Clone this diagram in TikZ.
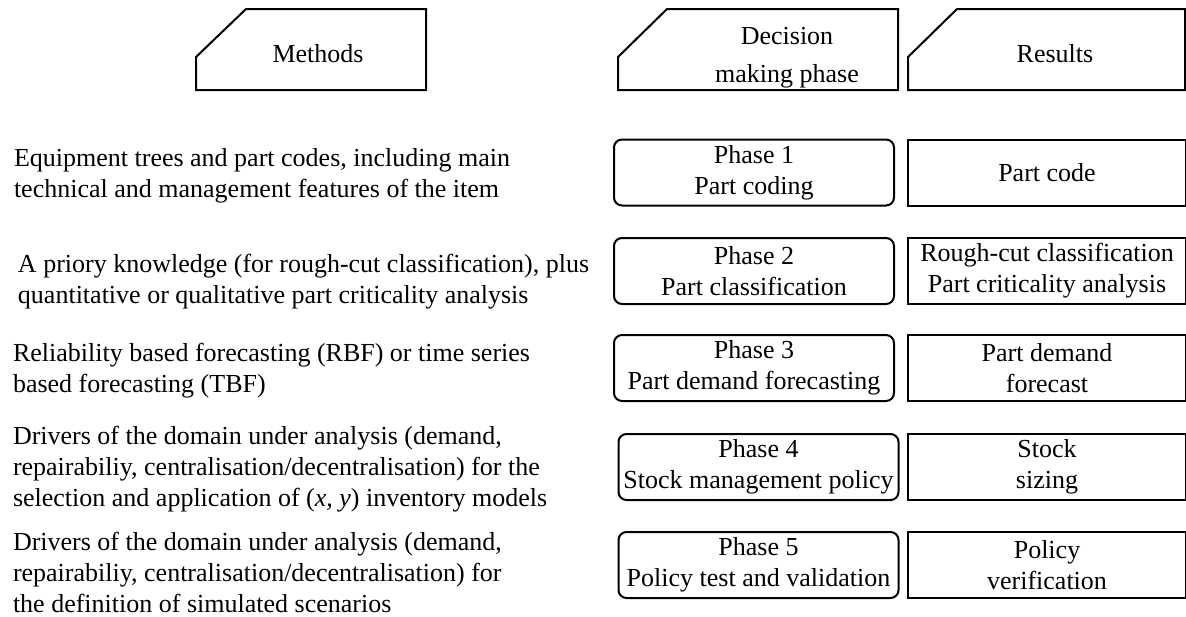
\documentclass[tikz,border=0pt]{standalone}
\usepackage{fontspec}
\setmainfont{LiberationSerif}[Extension=.ttf,UprightFont=*-Regular,ItalicFont=*-Italic,BoldFont=*-Bold]
\usetikzlibrary{positioning}

\begin{document}
\begin{tikzpicture}[x=0.5pt,y=-0.5pt,line width=1pt,
  every node/.style={font=\fontsize{13}{15.5}\selectfont},
  method/.style={anchor=west,align=left,inner sep=0pt},
  phase/.style={draw,rounded corners=4pt,minimum width=140pt,minimum height=33pt,align=center,inner sep=1pt},
  result/.style={draw,minimum width=139pt,minimum height=33pt,align=center,inner sep=1pt},
  head/.style={align=center,inner sep=0pt}]
\useasboundingbox (0,0) rectangle (1186,616);

% header boxes with the cut corner
\draw (196,57) -- (246,9) -- (426,9) -- (426,90) -- (196,90) -- cycle;
\draw (618,57) -- (667,9) -- (898,9) -- (898,90) -- (618,90) -- cycle;
\draw (908,57) -- (957,9) -- (1185,9) -- (1185,90) -- (908,90) -- cycle;

\node[head](hm) at (318,54) {Methods};
\node[head](hd) at (787,58) {Decision\\[3.5pt]making phase};
\node[head](hr) at (1055,54) {Results};

% methods
\node[method](m1) at (13,176) {Equipment trees and part codes, including main\\technical and management features of the item};
\node[method](m2) at (17,282) {A priory knowledge (for rough-cut classification), plus\\quantitative or qualitative part criticality analysis};
\node[method](m3) at (12,371) {Reliability based forecasting (RBF) or time series\\based forecasting (TBF)};
\node[method](m4) at (12,469) {Drivers of the domain under analysis (demand,\\repairabiliy, centralisation/decentralisation) for the\\selection and application of (\textit{x, y}) inventory models};
\node[method](m5) at (12,572) {Drivers of the domain under analysis (demand,\\repairabiliy, centralisation/decentralisation) for\\the definition of simulated scenarios};

% phases
\node[phase](p1) at (754,172.5) {Phase 1\\Part coding};
\node[phase](p2) at (754,271) {Phase 2\\Part classification};
\node[phase](p3) at (754,368) {Phase 3\\Part demand forecasting};
\node[phase](p4) at (758.5,467) {Phase 4\\Stock management policy};
\node[phase](p5) at (758.5,565) {Phase 5\\Policy test and validation};

% results
\node[result](r1) at (1047,172.5) {Part code};
\node[result](r2) at (1047,271) {Rough-cut classification\\Part criticality analysis};
\node[result](r3) at (1047,368) {Part demand\\forecast};
\node[result](r4) at (1047,467) {Stock\\sizing};
\node[result](r5) at (1047,565) {Policy\\verification};

\end{tikzpicture}
\end{document}
